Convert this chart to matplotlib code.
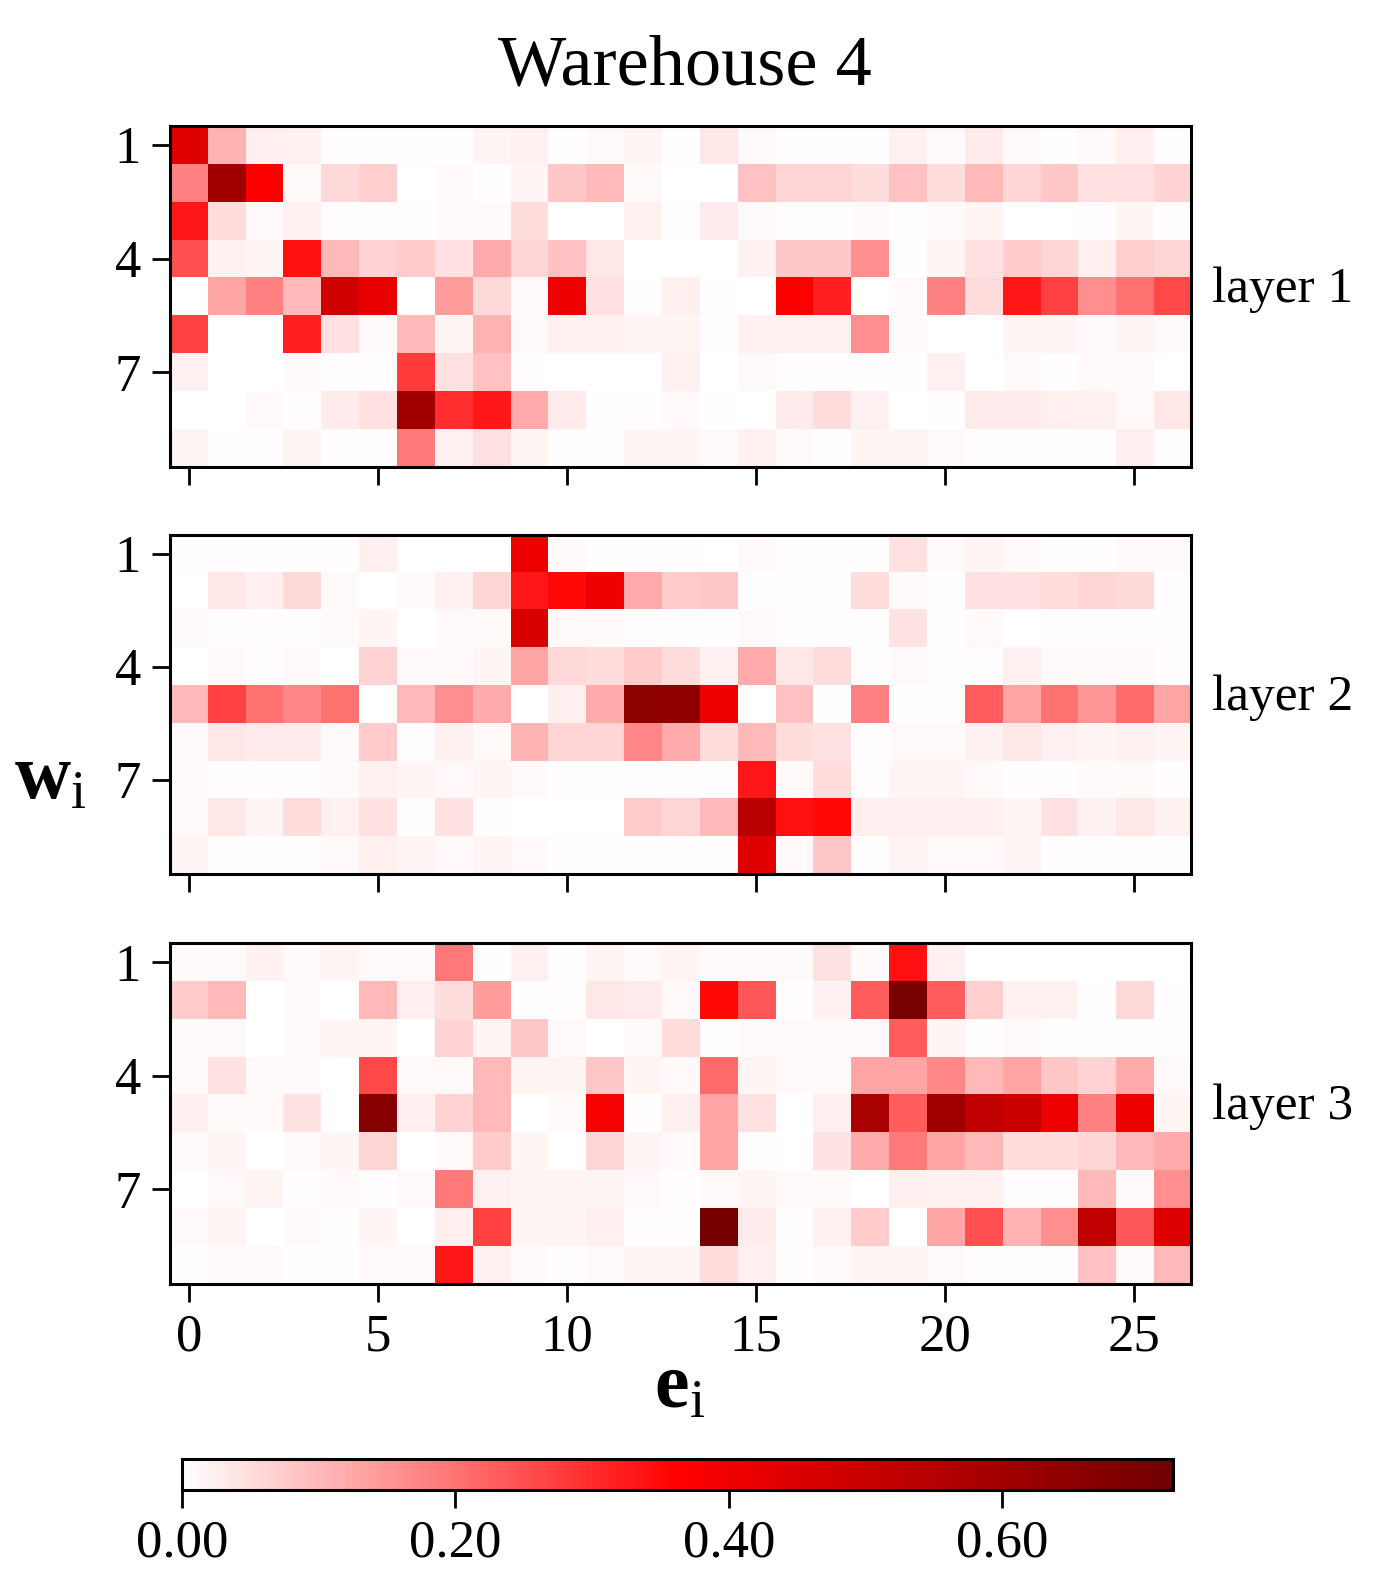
import numpy as np
import matplotlib
matplotlib.use('Agg')
import matplotlib.pyplot as plt
from matplotlib.colors import LinearSegmentedColormap

plt.rcParams['font.family'] = ['Liberation Serif', 'DejaVu Serif']
plt.rcParams['mathtext.fontset'] = 'custom'
plt.rcParams['mathtext.rm'] = 'Liberation Serif'
plt.rcParams['mathtext.bf'] = 'Liberation Serif:bold'
plt.rcParams['mathtext.it'] = 'Liberation Serif:italic'

# values, rows = w_i (1..9), cols = e_i (0..26)
layer1 = [
    [0.44, 0.11, 0.025, 0.02, 0.005, 0.005, 0.003, 0.005, 0.015, 0.02, 0.005, 0.01, 0.015, 0.005, 0.035, 0.01, 0.005, 0.005, 0.005, 0.02, 0.01, 0.03, 0.01, 0.005, 0.01, 0.025, 0.005],
    [0.18, 0.60, 0.37, 0.01, 0.055, 0.07, 0.0, 0.01, 0.003, 0.015, 0.08, 0.10, 0.01, 0.0, 0.0, 0.09, 0.06, 0.06, 0.05, 0.09, 0.05, 0.10, 0.06, 0.08, 0.045, 0.045, 0.065],
    [0.33, 0.05, 0.01, 0.02, 0.003, 0.003, 0.003, 0.01, 0.01, 0.05, 0.002, 0.002, 0.02, 0.005, 0.03, 0.01, 0.005, 0.003, 0.01, 0.003, 0.01, 0.015, 0.002, 0.002, 0.003, 0.015, 0.003],
    [0.25, 0.02, 0.015, 0.34, 0.10, 0.065, 0.075, 0.045, 0.12, 0.06, 0.09, 0.035, 0.002, 0.002, 0.002, 0.02, 0.08, 0.08, 0.16, 0.005, 0.015, 0.045, 0.075, 0.06, 0.025, 0.07, 0.06],
    [0.0, 0.13, 0.18, 0.10, 0.48, 0.42, 0.0, 0.14, 0.055, 0.01, 0.40, 0.045, 0.003, 0.025, 0.003, 0.002, 0.37, 0.32, 0.0, 0.01, 0.18, 0.05, 0.33, 0.27, 0.16, 0.20, 0.26],
    [0.27, 0.0, 0.0, 0.32, 0.045, 0.01, 0.10, 0.015, 0.11, 0.01, 0.02, 0.02, 0.015, 0.015, 0.005, 0.02, 0.02, 0.02, 0.16, 0.01, 0.002, 0.002, 0.015, 0.015, 0.01, 0.015, 0.01],
    [0.02, 0.0, 0.0, 0.01, 0.005, 0.005, 0.28, 0.045, 0.09, 0.003, 0.002, 0.002, 0.002, 0.02, 0.002, 0.01, 0.003, 0.003, 0.003, 0.005, 0.02, 0.002, 0.01, 0.003, 0.01, 0.01, 0.002],
    [0.0, 0.0, 0.01, 0.003, 0.03, 0.045, 0.60, 0.30, 0.33, 0.12, 0.03, 0.003, 0.003, 0.01, 0.003, 0.002, 0.03, 0.05, 0.02, 0.002, 0.003, 0.03, 0.03, 0.025, 0.02, 0.01, 0.035],
    [0.015, 0.003, 0.003, 0.015, 0.003, 0.003, 0.19, 0.02, 0.045, 0.015, 0.003, 0.003, 0.015, 0.015, 0.01, 0.02, 0.01, 0.003, 0.015, 0.015, 0.01, 0.003, 0.003, 0.003, 0.003, 0.025, 0.003],
]

layer2 = [
    [0.003, 0.003, 0.003, 0.003, 0.003, 0.025, 0.002, 0.002, 0.002, 0.41, 0.01, 0.005, 0.003, 0.003, 0.002, 0.01, 0.003, 0.003, 0.003, 0.045, 0.01, 0.015, 0.01, 0.005, 0.005, 0.01, 0.01],
    [0.002, 0.035, 0.025, 0.055, 0.01, 0.002, 0.01, 0.02, 0.06, 0.33, 0.35, 0.40, 0.12, 0.075, 0.08, 0.005, 0.003, 0.003, 0.05, 0.01, 0.005, 0.045, 0.045, 0.05, 0.06, 0.055, 0.005],
    [0.01, 0.003, 0.003, 0.003, 0.01, 0.015, 0.002, 0.01, 0.01, 0.456, 0.01, 0.01, 0.003, 0.003, 0.003, 0.01, 0.003, 0.003, 0.003, 0.04, 0.005, 0.01, 0.002, 0.003, 0.005, 0.003, 0.005],
    [0.002, 0.01, 0.003, 0.01, 0.002, 0.065, 0.01, 0.01, 0.015, 0.13, 0.055, 0.05, 0.075, 0.05, 0.02, 0.12, 0.035, 0.05, 0.003, 0.01, 0.003, 0.003, 0.02, 0.01, 0.01, 0.01, 0.003],
    [0.10, 0.27, 0.20, 0.17, 0.20, 0.0, 0.10, 0.16, 0.12, 0.0, 0.025, 0.12, 0.654, 0.644, 0.41, 0.0, 0.09, 0.003, 0.18, 0.003, 0.003, 0.23, 0.13, 0.20, 0.15, 0.21, 0.13],
    [0.01, 0.035, 0.03, 0.03, 0.01, 0.075, 0.003, 0.02, 0.01, 0.11, 0.06, 0.06, 0.17, 0.12, 0.05, 0.10, 0.05, 0.04, 0.003, 0.01, 0.01, 0.02, 0.035, 0.02, 0.015, 0.02, 0.015],
    [0.01, 0.003, 0.003, 0.003, 0.01, 0.02, 0.015, 0.01, 0.015, 0.01, 0.003, 0.003, 0.003, 0.003, 0.003, 0.33, 0.01, 0.05, 0.003, 0.015, 0.015, 0.01, 0.005, 0.003, 0.01, 0.01, 0.003],
    [0.01, 0.035, 0.015, 0.05, 0.02, 0.045, 0.005, 0.045, 0.005, 0.002, 0.002, 0.002, 0.075, 0.06, 0.10, 0.54, 0.34, 0.35, 0.025, 0.025, 0.025, 0.025, 0.015, 0.045, 0.02, 0.035, 0.02],
    [0.015, 0.003, 0.003, 0.003, 0.01, 0.025, 0.015, 0.01, 0.015, 0.01, 0.003, 0.003, 0.003, 0.003, 0.003, 0.44, 0.01, 0.08, 0.003, 0.015, 0.01, 0.01, 0.015, 0.003, 0.003, 0.003, 0.003],
]

layer3 = [
    [0.01, 0.01, 0.02, 0.01, 0.015, 0.01, 0.01, 0.19, 0.005, 0.02, 0.005, 0.015, 0.01, 0.015, 0.01, 0.01, 0.01, 0.04, 0.01, 0.34, 0.02, 0.002, 0.002, 0.002, 0.002, 0.002, 0.002],
    [0.075, 0.10, 0.0, 0.01, 0.0, 0.10, 0.025, 0.05, 0.14, 0.003, 0.003, 0.035, 0.03, 0.01, 0.35, 0.24, 0.005, 0.02, 0.23, 0.705, 0.23, 0.07, 0.02, 0.02, 0.003, 0.055, 0.003],
    [0.01, 0.01, 0.002, 0.01, 0.015, 0.015, 0.002, 0.065, 0.015, 0.08, 0.01, 0.002, 0.01, 0.05, 0.005, 0.01, 0.01, 0.01, 0.01, 0.23, 0.015, 0.003, 0.01, 0.003, 0.003, 0.003, 0.003],
    [0.01, 0.04, 0.01, 0.01, 0.002, 0.26, 0.01, 0.01, 0.10, 0.015, 0.015, 0.08, 0.015, 0.01, 0.21, 0.015, 0.01, 0.01, 0.13, 0.13, 0.17, 0.10, 0.13, 0.08, 0.065, 0.12, 0.01],
    [0.025, 0.01, 0.01, 0.04, 0.0, 0.664, 0.025, 0.065, 0.10, 0.0, 0.01, 0.38, 0.003, 0.025, 0.13, 0.045, 0.002, 0.025, 0.578, 0.23, 0.60, 0.52, 0.49, 0.41, 0.18, 0.41, 0.015],
    [0.01, 0.015, 0.002, 0.01, 0.015, 0.06, 0.002, 0.01, 0.075, 0.015, 0.002, 0.06, 0.015, 0.01, 0.13, 0.003, 0.002, 0.04, 0.12, 0.19, 0.13, 0.10, 0.05, 0.05, 0.06, 0.10, 0.12],
    [0.002, 0.01, 0.015, 0.003, 0.01, 0.003, 0.01, 0.19, 0.02, 0.015, 0.015, 0.015, 0.01, 0.003, 0.01, 0.015, 0.01, 0.01, 0.002, 0.025, 0.02, 0.02, 0.003, 0.003, 0.10, 0.01, 0.16],
    [0.01, 0.015, 0.002, 0.01, 0.003, 0.015, 0.002, 0.025, 0.27, 0.015, 0.015, 0.025, 0.003, 0.003, 0.71, 0.03, 0.003, 0.02, 0.075, 0.002, 0.13, 0.25, 0.11, 0.16, 0.52, 0.24, 0.45],
    [0.003, 0.01, 0.01, 0.003, 0.003, 0.01, 0.01, 0.33, 0.02, 0.01, 0.003, 0.01, 0.015, 0.015, 0.05, 0.025, 0.003, 0.01, 0.015, 0.015, 0.01, 0.003, 0.003, 0.003, 0.09, 0.01, 0.10],
]

layer_names = ['layer 1', 'layer 2', 'layer 3']
xticks = [0, 5, 10, 15, 20, 25]
yticks = [0, 3, 6]
ytick_labels = ['1', '4', '7']
cbar_ticks = [0.0, 0.2, 0.4, 0.6]
vmax = 0.725

cmap = LinearSegmentedColormap.from_list('wr', ['white', 'red', '#700000'])

fig = plt.figure(figsize=(13.86, 15.85), dpi=100)

# axes boxes in figure fractions: [left, bottom, width, height]
boxes = [
    [0.1227, 0.7054, 0.7367, 0.2151],
    [0.1227, 0.4486, 0.7367, 0.2139],
    [0.1227, 0.1899, 0.7367, 0.2151],
]

for i, data in enumerate([layer1, layer2, layer3]):
    ax = fig.add_axes(boxes[i])
    im = ax.imshow(np.array(data), cmap=cmap, vmin=0, vmax=vmax, aspect='auto',
                   interpolation='nearest')
    ax.set_xticks(xticks)
    ax.set_yticks(yticks)
    ax.set_yticklabels(ytick_labels)
    if i < 2:
        ax.set_xticklabels([])
    ax.tick_params(labelsize=38, length=13, width=2, pad=8)
    for s in ax.spines.values():
        s.set_linewidth(2.2)
    ax.text(1.02, 0.52, layer_names[i], transform=ax.transAxes, fontsize=37,
            va='center', ha='left')

fig.text(0.494, 0.958, 'Warehouse 4', fontsize=52, ha='center', va='center')
fig.text(0.036, 0.508, r'$\mathbf{w}_\mathrm{i}$', fontsize=56, ha='center', va='center')
fig.text(0.49, 0.124, r'$\mathbf{e}_\mathrm{i}$', fontsize=56, ha='center', va='center')

cax = fig.add_axes([0.1313, 0.0599, 0.715, 0.0196])
cb = fig.colorbar(im, cax=cax, orientation='horizontal', ticks=cbar_ticks, format='%.2f')
cb.outline.set_linewidth(2.2)
cax.tick_params(labelsize=38, length=13, width=2, pad=8)

plt.savefig('out.png', dpi=100)
